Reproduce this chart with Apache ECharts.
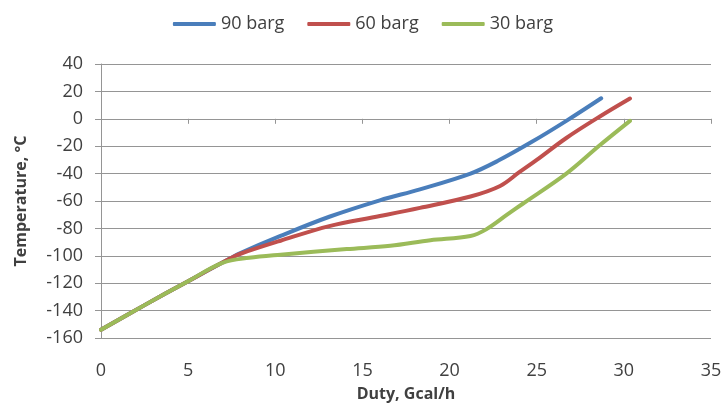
<!DOCTYPE html>
<html>
<head>
<meta charset="utf-8">
<script src="https://cdn.jsdelivr.net/npm/echarts@6/dist/echarts.min.js"></script>
<style>
  html, body { margin: 0; padding: 0; background: #ffffff; }
  #chart { width: 726px; height: 407px; }
</style>
</head>
<body>
<div id="chart"></div>
<script>
// Cooling curves: temperature vs. cumulative duty at three pressures
var seriesNames = ['90 barg', '60 barg', '30 barg'];
var seriesColors = ['#4a7ebb', '#c0504d', '#9bbb59'];

var duty90 = [0, 2.5, 5, 7.4, 8, 10.3, 13.1, 16, 18.3, 21.2, 22.8, 24.7, 26.7, 28.7];
var temp90 = [-154, -136, -118.5, -102, -98, -85.5, -71.5, -59.5, -51.5, -40, -30.5, -17, -1.5, 15];

var duty60 = [0, 2.5, 5, 7.4, 8, 10.3, 13.1, 16, 18.3, 21.2, 22.9, 24, 25, 26.7, 28.6, 30.35];
var temp60 = [-154, -136, -118.5, -102, -98.5, -89, -78.3, -71, -65, -56.7, -49, -39, -30, -14, 1.5, 14.8];

var duty30 = [0, 2.5, 5, 7, 8.5, 10.3, 14.1, 16.6, 18.9, 21.2, 22.1, 23.3, 24.2, 26.7, 28.6, 30.35];
var temp30 = [-154, -136, -118.5, -105, -101.5, -99.2, -95.1, -92.7, -88.6, -85.5, -80.7, -70, -62, -40, -19.5, -1.5];

var dutyTicks = { min: 0, max: 35, interval: 5 };
var tempTicks = { min: -160, max: 40, interval: 20 };

function pairs(xs, ys) {
  return xs.map(function (x, i) { return [x, ys[i]]; });
}

var dataSets = [pairs(duty90, temp90), pairs(duty60, temp60), pairs(duty30, temp30)];

var FONT = 'Open Sans';
var TEXT = '#404040';
var GRID = '#959595';

var chart = echarts.init(document.getElementById('chart'), null, { renderer: 'canvas' });

chart.setOption({
  animation: false,
  backgroundColor: '#ffffff',
  textStyle: { fontFamily: FONT },
  legend: {
    top: 10,
    left: 'center',
    icon: 'roundRect',
    itemWidth: 43,
    itemHeight: 4,
    itemGap: 23,
    textStyle: { fontFamily: FONT, fontSize: 18, color: TEXT },
    data: seriesNames
  },
  grid: { left: 101, right: 15, top: 64, bottom: 65, containLabel: false },
  xAxis: {
    type: 'value',
    min: dutyTicks.min,
    max: dutyTicks.max,
    interval: dutyTicks.interval,
    name: 'Duty, Gcal/h',
    nameLocation: 'middle',
    nameGap: 48,
    nameTextStyle: { fontFamily: FONT, fontSize: 16, fontWeight: 'bold', color: TEXT },
    axisLine: { show: true, lineStyle: { color: GRID, width: 1 } },
    axisTick: { show: true, inside: false, length: 5, lineStyle: { color: GRID } },
    axisLabel: { margin: 24, fontFamily: FONT, fontSize: 18, color: TEXT },
    splitLine: { show: false }
  },
  yAxis: {
    type: 'value',
    min: tempTicks.min,
    max: tempTicks.max,
    interval: tempTicks.interval,
    name: 'Temperature, °C',
    nameLocation: 'middle',
    nameGap: 72,
    nameRotate: 90,
    nameTextStyle: { fontFamily: FONT, fontSize: 16, fontWeight: 'bold', color: TEXT },
    axisLine: { show: true, lineStyle: { color: GRID, width: 1 } },
    axisTick: { show: true, inside: false, length: 6, lineStyle: { color: GRID } },
    axisLabel: { margin: 18, fontFamily: FONT, fontSize: 18, color: TEXT },
    splitLine: { show: true, lineStyle: { color: GRID, width: 1 } }
  },
  // later series draw on top, so the 30 barg curve covers the shared cold end
  series: seriesNames.map(function (name, i) {
    return {
      name: name,
      type: 'line',
      data: dataSets[i],
      smooth: 0.35,
      showSymbol: false,
      symbol: 'none',
      lineStyle: { color: seriesColors[i], width: 4, cap: 'round', join: 'round' },
      itemStyle: { color: seriesColors[i] }
    };
  })
});
</script>
</body>
</html>
